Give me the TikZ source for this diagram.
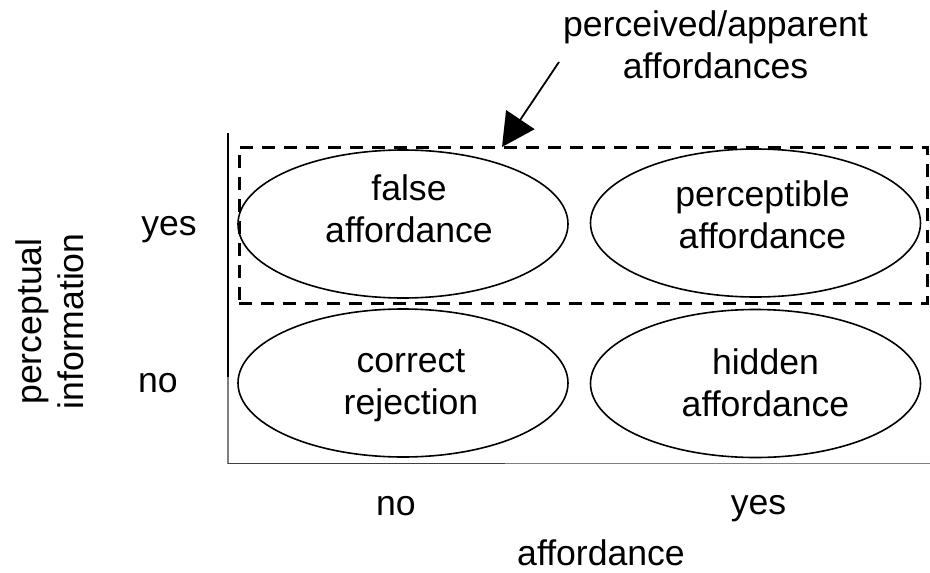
\documentclass[tikz,border=0pt]{standalone}
\usepackage{fontspec}
\setmainfont{Liberation Sans}
\usetikzlibrary{arrows.meta,shapes.geometric}
\newcommand\stacklines[2][0pt]{\begin{tabular}[b]{@{\hspace{#1}}c@{}}#2\end{tabular}}
\definecolor{axisgray}{gray}{0.5}
\definecolor{axisdark}{gray}{0.25}
\tikzset{
  cell/.style={ellipse, draw=black, line width=1.6pt, inner sep=0pt,
    minimum width=330pt, minimum height=148pt},
  perceivedbox/.style={draw=black, line width=3pt, dash pattern=on 13pt off 9pt,
    inner sep=0pt, minimum width=688pt, minimum height=156pt},
  axislabel/.style={inner sep=0pt, anchor=base},
  pointer/.style={line width=1.8pt, -{Triangle[length=33pt,width=34pt]}},
}
\begin{document}
\begin{tikzpicture}[x=1pt,y=-1pt,font=\fontsize{35.6}{42}\selectfont]
\useasboundingbox (0,0) rectangle (930,573);
% axes
\coordinate (ytop) at (228,133);
\coordinate (ysplit) at (228,377);
\coordinate (origin) at (228,463.5);
\coordinate (xsplit) at (505,463.5);
\coordinate (xend) at (930,463.5);
\draw[line width=1.6pt, black] (ytop) -- (ysplit);
\draw[line width=1.6pt, axisgray] (ysplit) -- (origin);
\draw[line width=1.6pt, axisdark] (origin) -- (xsplit);
\draw[line width=1.6pt, axisgray] (xsplit) -- (xend);
% dashed region
\node[perceivedbox] (box) at (583,225) {};
% cells
\node[cell, text height=46pt, text depth=10pt] (fa) at (403,224) {\stacklines[12pt]{false\\affordance}};
\node[cell, text height=60pt, text depth=10pt] (pa) at (755.5,223) {\stacklines[14pt]{perceptible\\affordance}};
\node[cell, text height=72pt, text depth=10pt] (cr) at (403,383) {\stacklines[16pt]{correct\\rejection}};
\node[cell, text height=75pt, text depth=10pt] (ha) at (755.5,383.5) {\stacklines[20pt]{hidden\\affordance}};
% axis labels
\node[axislabel] (yyes) at (169,235) {yes};
\node[axislabel] (yno) at (158,392) {no};
\node[axislabel] (xno) at (396,515) {no};
\node[axislabel] (xyes) at (758.5,514) {yes};
\node[axislabel] (xtitle) at (601,565) {affordance};
\node[axislabel, rotate=90] (ytitle) at (83,321.5) {\stacklines{perceptual\\information}};
% annotation
\node[axislabel] (note) at (715.5,78.5) {\stacklines{perceived/apparent\\affordances}};
\coordinate (arrowstart) at (559,62);
\coordinate (arrowtip) at (502,147);
\draw[pointer] (arrowstart) -- (arrowtip);
\end{tikzpicture}
\end{document}
